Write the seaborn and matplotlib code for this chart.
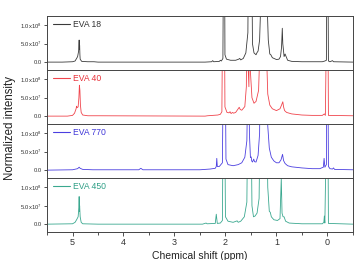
import matplotlib
matplotlib.use("Agg")
import matplotlib.pyplot as plt
import seaborn as sns
import pandas as pd

sns.set_style("ticks")
plt.rcParams["font.family"] = ["Liberation Sans", "DejaVu Sans"]
plt.rcParams["mathtext.default"] = "regular"

# intensities in units of 1e7, clipped peaks given large values
eva18_ppm = [5.5, 5.2, 5.0, 4.95, 4.92, 4.9, 4.88, 4.875, 4.87, 4.865, 4.86, 4.855, 4.85, 4.82, 4.7, 4.58, 4.5,
             3.0, 2.4, 2.27, 2.25, 2.23, 2.12, 2.1, 2.08, 2.05, 2.035, 2.02, 2.01, 1.98, 1.9, 1.8, 1.74, 1.72, 1.7,
             1.65, 1.6, 1.56, 1.545, 1.53, 1.52, 1.5, 1.49, 1.47, 1.44, 1.4, 1.38, 1.36, 1.33, 1.31, 1.29, 1.2,
             1.18, 1.16, 1.13, 1.11, 1.08, 1.0, 0.95, 0.92, 0.9, 0.885, 0.875, 0.86, 0.85, 0.83, 0.81, 0.78, 0.7,
             0.5, 0.1, 0.05, 0.02, 0.005, -0.005, -0.02, -0.05, -0.1, -0.12, -0.5]
eva18_int = [0.0, 0.0, 0.1, 0.3, 1.0, 1.5, 3.0, 4.5, 6.0, 3.5, 4.5, 2.0, 0.8, 0.2, 0.1, 0.1, 0.0,
             0.0, 0.0, 0.1, 0.4, 0.1, 0.2, 0.5, 0.3, 1.0, 40, 40, 2.0, 0.8, 0.5, 0.5, 0.8, 1.0, 0.6,
             1.0, 2.5, 8.0, 40, 40, 20, 40, 40, 5.0, 2.5, 2.0, 2.6, 3.0, 6.0, 15, 40, 40,
             15, 6.0, 2.2, 2.0, 1.2, 0.7, 0.8, 1.5, 4.0, 9.2, 5.0, 3.0, 1.5, 2.2, 1.5, 0.5, 0.2,
             0.1, 0.1, 0.3, 0.5, 40, 40, 0.3, 0.1, 0.4, 0.1, 0.0]

eva40_ppm = [5.5, 5.1, 5.0, 4.96, 4.93, 4.92, 4.91, 4.89, 4.875, 4.865, 4.855, 4.845, 4.83, 4.8, 4.7, 4.5,
             2.4, 2.35, 2.15, 2.1, 2.07, 2.05, 2.035, 2.025, 2.01, 1.97, 1.93, 1.91, 1.89, 1.86, 1.84, 1.8,
             1.76, 1.73, 1.71, 1.68, 1.62, 1.59, 1.575, 1.56, 1.54, 1.525, 1.51, 1.48, 1.44, 1.4, 1.35, 1.32,
             1.3, 1.21, 1.19, 1.17, 1.13, 1.08, 1.0, 0.93, 0.9, 0.875, 0.86, 0.84, 0.8, 0.7, 0.5, 0.3, 0.1,
             0.06, 0.04, 0.005, -0.005, -0.02, -0.5]
eva40_int = [0.0, 0.0, 0.2, 0.8, 2.0, 2.7, 2.3, 2.5, 5.0, 8.4, 7.0, 3.0, 1.0, 0.3, 0.1, 0.1,
             0.0, 0.1, 0.3, 0.5, 1.2, 40, 20, 40, 2.5, 1.0, 0.9, 1.2, 0.7, 1.0, 0.8, 1.0,
             1.8, 2.4, 1.8, 1.6, 2.6, 8.0, 40, 15, 8.0, 40, 12, 5.0, 3.5, 4.0, 7.0, 20,
             40, 40, 15, 6.0, 3.0, 2.0, 1.5, 2.0, 3.0, 3.9, 2.5, 1.5, 1.0, 0.6, 0.3, 0.2, 0.2,
             0.6, 0.2, 40, 40, 0.2, 0.1]

eva770_ppm = [5.5, 5.0, 4.9, 4.87, 4.85, 4.8, 4.6, 3.7, 3.66, 3.62, 2.5, 2.3, 2.2, 2.18, 2.17, 2.16, 2.12,
              2.06, 2.035, 2.01, 1.99, 1.95, 1.85, 1.75, 1.68, 1.62, 1.58, 1.545, 1.53, 1.51, 1.495, 1.485,
              1.47, 1.445, 1.43, 1.4, 1.36, 1.33, 1.31, 1.19, 1.17, 1.14, 1.1, 1.05, 1.0, 0.95, 0.91, 0.88,
              0.86, 0.83, 0.78, 0.7, 0.5, 0.3, 0.15, 0.08, 0.065, 0.05, 0.02, 0.005, -0.005, -0.02, -0.05,
              -0.1, -0.12, -0.14, -0.5]
eva770_int = [0.0, 0.1, 0.4, 0.8, 0.5, 0.2, 0.1, 0.1, 0.5, 0.1, 0.1, 0.3, 0.5, 1.0, 3.2, 1.0, 1.0,
              2.0, 40, 40, 3.0, 1.5, 1.2, 1.5, 2.0, 3.5, 8.0, 40, 10, 3.4, 3.6, 2.5,
              2.2, 3.0, 2.3, 2.2, 4.0, 10, 40, 40, 12, 6.0, 3.5, 2.5, 2.0, 2.0, 2.8, 4.3,
              2.6, 1.8, 1.2, 0.9, 0.6, 0.4, 0.4, 0.8, 3.2, 0.8, 1.5, 40, 40, 1.0, 0.4,
              0.3, 0.6, 0.2, 0.1]

eva450_ppm = [5.5, 5.0, 4.95, 4.92, 4.89, 4.875, 4.87, 4.865, 4.86, 4.85, 4.83, 4.8, 4.5,
              2.45, 2.38, 2.36, 2.2, 2.18, 2.16, 2.1, 2.06, 2.04, 2.03, 2.02, 2.0, 1.95, 1.85, 1.77, 1.75,
              1.7, 1.63, 1.58, 1.555, 1.535, 1.505, 1.48, 1.45, 1.42, 1.38, 1.34, 1.31, 1.2, 1.17, 1.14,
              1.12, 1.1, 1.05, 0.98, 0.93, 0.905, 0.89, 0.87, 0.85, 0.82, 0.75, 0.5, 0.1, 0.07, 0.06, 0.05,
              0.005, -0.005, -0.02, -0.5]
eva450_int = [0.0, 0.1, 0.5, 1.2, 2.0, 4.5, 7.5, 3.5, 5.0, 2.0, 0.5, 0.1, 0.0,
              0.0, 0.3, 0.1, 0.2, 2.7, 0.2, 0.3, 1.0, 40, 20, 40, 2.0, 0.8, 0.5, 0.9, 0.5,
              0.8, 2.0, 6.0, 40, 20, 40, 5.0, 2.0, 2.2, 3.0, 7.0, 40, 40, 10, 3.5,
              3.2, 2.0, 1.2, 1.0, 1.5, 12.5, 3.0, 2.0, 2.0, 0.8, 0.3, 0.1, 0.1, 0.5, 2.2, 0.3,
              40, 40, 0.2, 0.0]

labels = ["EVA 18", "EVA 40", "EVA 770", "EVA 450"]
line_colors = ["#3a3a3a", "#f0444c", "#4b3fe0", "#3aa88f"]
text_colors = ["#333333", "#e8323a", "#3f36d8", "#2f9f86"]
spectra = [(eva18_ppm, eva18_int), (eva40_ppm, eva40_int),
           (eva770_ppm, eva770_int), (eva450_ppm, eva450_int)]

y_ticks = [0, 5, 10]
y_ticklabels = ["0.0", "5.0x10$^7$", "1.0x10$^8$"]
x_ticks = [5, 4, 3, 2, 1, 0]

fig, axes = plt.subplots(4, 1, figsize=(3.59, 2.60), dpi=100, sharex=True)
fig.subplots_adjust(left=0.131, right=0.983, top=0.940, bottom=0.109, hspace=0)

for ax, (ppm, inten), lab, lc, tc in zip(axes, spectra, labels, line_colors, text_colors):
    df = pd.DataFrame({"ppm": ppm, "intensity": inten})
    sns.lineplot(data=df, x="ppm", y="intensity", ax=ax, color=lc, lw=0.6,
                 estimator=None, sort=False, label=lab)
    ax.set_ylim(-2.04, 12.64)
    ax.set_xlim(5.5, -0.5)
    ax.set_yticks(y_ticks)
    ax.set_yticklabels(y_ticklabels)
    ax.set_ylabel("")
    ax.set_xlabel("")
    ax.tick_params(axis="y", labelsize=4.2, length=2.5, width=0.6, pad=1.5, colors="#333333")
    ax.tick_params(axis="x", which="major", labelsize=6.5, length=2.8, width=0.6, pad=2, colors="#333333")
    ax.tick_params(axis="x", which="minor", length=2.0, width=0.6, colors="#333333")
    for sp in ax.spines.values():
        sp.set_visible(True)
        sp.set_color("#444444")
        sp.set_linewidth(0.7)
    leg = ax.legend(loc="center left", bbox_to_anchor=(0.02, 0.84), frameon=False,
                    borderpad=0, borderaxespad=0, handlelength=2.0, handletextpad=0.3,
                    fontsize=6.2)
    for t in leg.get_texts():
        t.set_color(tc)
    for h in leg.get_lines():
        h.set_linewidth(0.8)

axes[-1].set_xticks(x_ticks)
axes[-1].set_xticks([4.5, 3.5, 2.5, 1.5, 0.5, -0.5, 5.5], minor=True)

fig.text(0.028, 0.508, "Normalized intensity", rotation=90, ha="center", va="center",
         fontsize=8.3, color="#222222")
fig.text(0.557, 1 - 256 / 260, "Chemical shift (ppm)", ha="center", va="center",
         fontsize=7.5, color="#222222")

fig.savefig("out.png", dpi=100)
